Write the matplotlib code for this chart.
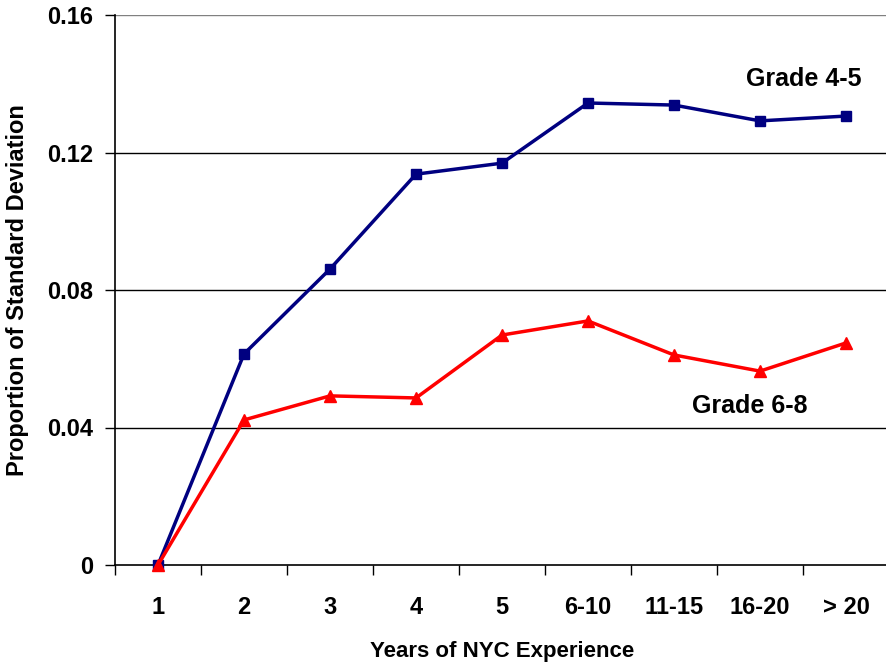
import numpy as np
from matplotlib import pyplot as plt

categories = ['1', '2', '3', '4', '5', '6-10', '11-15', '16-20', '> 20']
grade_4_5 = [0.0, 0.0614, 0.0861, 0.1137, 0.1169, 0.1344, 0.1338, 0.1292, 0.1306]
grade_6_8 = [0.0, 0.0422, 0.0492, 0.0486, 0.0669, 0.0710, 0.0611, 0.0564, 0.0646]
yticks = [0, 0.04, 0.08, 0.12, 0.16]
ytick_labels = ['0', '0.04', '0.08', '0.12', '0.16']

plt.rcParams['font.family'] = ['Liberation Sans', 'DejaVu Sans']
plt.rcParams['font.weight'] = 'bold'

fig = plt.figure(figsize=(8.86, 6.66), dpi=100)
ax = fig.add_axes([115 / 886, 101 / 666, 774 / 886, 550 / 666])

x = np.arange(len(categories))
ax.plot(x, grade_4_5, color='#000080', lw=2.5, marker='s', ms=7, zorder=3, clip_on=False)
ax.plot(x, grade_6_8, color='#ff0000', lw=2.5, marker='^', ms=8, zorder=4, clip_on=False)

ax.set_xlim(-0.5, len(categories) - 0.5)
ax.set_ylim(0, 0.16)

# gridlines
for y in yticks[1:]:
    ax.axhline(y, color='black' if y < 0.16 else '#808080', lw=1, zorder=1)

ax.set_yticks(yticks)
ax.set_yticklabels(ytick_labels, fontsize=17, fontweight='bold')
ax.tick_params(axis='y', length=7, width=1, pad=9)

ax.set_xticks(x)
ax.set_xticklabels(categories, fontsize=17, fontweight='bold')
ax.set_xticks(np.arange(-0.5, len(categories)), minor=True)
ax.tick_params(axis='x', which='major', length=0, pad=22)
ax.tick_params(axis='x', which='minor', length=7, width=1)

for side in ['top', 'right']:
    ax.spines[side].set_visible(False)
ax.spines['left'].set_linewidth(1.2)
ax.spines['bottom'].set_linewidth(1.2)

ax.set_xlabel('Years of NYC Experience', fontsize=16, fontweight='bold', labelpad=16)
ax.set_ylabel('Proportion of Standard Deviation', fontsize=17, fontweight='bold', labelpad=13)

ax.text(8.18, 0.1415, 'Grade 4-5', fontsize=18, fontweight='bold', ha='right', va='center')
ax.text(6.88, 0.0462, 'Grade 6-8', fontsize=18, fontweight='bold', ha='center', va='center')

plt.savefig('out.png', dpi=100)
